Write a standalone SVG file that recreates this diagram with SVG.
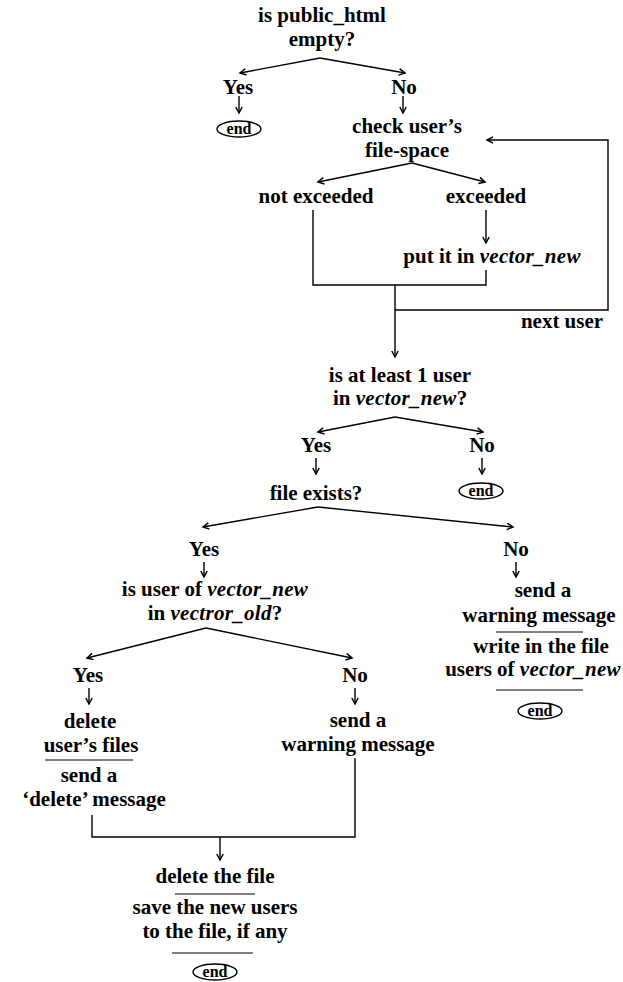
<svg xmlns="http://www.w3.org/2000/svg" width="623" height="982" viewBox="0 0 623 982">
<style>
text{font-family:"Liberation Serif","Times New Roman",serif;font-size:21px;font-weight:bold;fill:#000;text-anchor:middle}
.i{font-style:italic;letter-spacing:0.3px}
.e{font-size:16px}
.c{fill:none;stroke:#000;stroke-width:1.4}
.sep{stroke:#000;stroke-width:1.1}
.ov{fill:#fff;stroke:#000;stroke-width:1.4}
</style>
<defs>
<marker id="ah" markerWidth="10" markerHeight="10" refX="7" refY="4" orient="auto" markerUnits="userSpaceOnUse">
<path d="M1,0.8 L7,4 L1,7.2" fill="none" stroke="#000" stroke-width="1.5"/>
</marker>
</defs>
<rect width="623" height="982" fill="#fff"/>
<g id="connectors" class="c">
<path d="M320,58 L240,73" marker-end="url(#ah)"/>
<path d="M320,58 L405,73" marker-end="url(#ah)"/>
<path d="M239,96 V113" marker-end="url(#ah)"/>
<path d="M403,96 V113" marker-end="url(#ah)"/>
<path d="M412,163 L318,182" marker-end="url(#ah)"/>
<path d="M412,163 L485,182" marker-end="url(#ah)"/>
<path d="M313,210 V285 H486 V270"/>
<path d="M486,210 V243" marker-end="url(#ah)"/>
<path d="M395,285 V357" marker-end="url(#ah)"/>
<path d="M395,310 H608 V140 H487" marker-end="url(#ah)"/>
<path d="M395,417 L318,432" marker-end="url(#ah)"/>
<path d="M395,417 L483,432" marker-end="url(#ah)"/>
<path d="M316,458 V474" marker-end="url(#ah)"/>
<path d="M482,458 V474" marker-end="url(#ah)"/>
<path d="M318,507 L203,527" marker-end="url(#ah)"/>
<path d="M318,507 L513,527" marker-end="url(#ah)"/>
<path d="M204,562 V577" marker-end="url(#ah)"/>
<path d="M516,562 V577" marker-end="url(#ah)"/>
<path d="M206,628 L87,658" marker-end="url(#ah)"/>
<path d="M206,628 L352,658" marker-end="url(#ah)"/>
<path d="M89,688 V704" marker-end="url(#ah)"/>
<path d="M355,688 V704" marker-end="url(#ah)"/>
<path d="M92,815 V837 H355 V758"/>
<path d="M220,837 V860" marker-end="url(#ah)"/>
</g>
<g id="q-public">
<text x="322" y="22">is public_html</text>
<text x="322" y="46">empty?</text>
</g>
<g id="yes1"><text x="238" y="94">Yes</text></g>
<g id="no1"><text x="404" y="94">No</text></g>
<g id="end1"><ellipse class="ov" cx="239" cy="129" rx="22" ry="8"/><text class="e" x="239" y="134">end</text></g>
<g id="check"><text x="407" y="133">check user’s</text><text x="407" y="157">file-space</text></g>
<g id="notexc"><text x="316" y="203">not exceeded</text></g>
<g id="exc"><text x="486" y="203">exceeded</text></g>
<g id="put"><text x="492" y="263">put it in <tspan class="i">vector_new</tspan></text></g>
<g id="next"><text x="562" y="328">next user</text></g>
<g id="q-atleast"><text x="400" y="382">is at least 1 user</text><text x="400" y="405">in <tspan class="i">vector_new</tspan>?</text></g>
<g id="yes2"><text x="316" y="452">Yes</text></g>
<g id="no2"><text x="482" y="452">No</text></g>
<g id="end2"><ellipse class="ov" cx="481" cy="491" rx="22" ry="8"/><text class="e" x="481" y="496">end</text></g>
<g id="q-exists"><text x="316" y="500">file exists?</text></g>
<g id="yes3"><text x="204" y="556">Yes</text></g>
<g id="no3"><text x="516" y="556">No</text></g>
<g id="q-old"><text x="215" y="596">is user of <tspan class="i">vector_new</tspan></text><text x="215" y="620">in <tspan class="i">vectror_old</tspan>?</text></g>
<g id="right-block">
<text x="543" y="597">send a</text>
<text x="539" y="622">warning message</text>
<line class="sep" x1="496" y1="632" x2="583" y2="632"/>
<text x="541" y="653">write in the file</text>
<text x="533" y="676">users of <tspan class="i">vector_new</tspan></text>
<line class="sep" x1="496" y1="690" x2="583" y2="690"/>
<ellipse class="ov" cx="540" cy="711" rx="22" ry="8"/><text class="e" x="540" y="716">end</text>
</g>
<g id="yes4"><text x="88" y="682">Yes</text></g>
<g id="no4"><text x="355" y="682">No</text></g>
<g id="delete-block">
<text x="90" y="728">delete</text>
<text x="91" y="752">user’s files</text>
<line class="sep" x1="45" y1="760" x2="133" y2="760"/>
<text x="89" y="782">send a</text>
<text x="94" y="806">‘delete’ message</text>
</g>
<g id="warn-block">
<text x="358" y="727">send a</text>
<text x="358" y="751">warning message</text>
</g>
<g id="final-block">
<text x="215" y="883">delete the file</text>
<line class="sep" x1="175" y1="894" x2="255" y2="894"/>
<text x="215" y="914">save the new users</text>
<text x="215" y="938">to the file, if any</text>
<line class="sep" x1="172" y1="953" x2="253" y2="953"/>
<ellipse class="ov" cx="215" cy="972" rx="22" ry="8"/><text class="e" x="215" y="977">end</text>
</g>
</svg>
